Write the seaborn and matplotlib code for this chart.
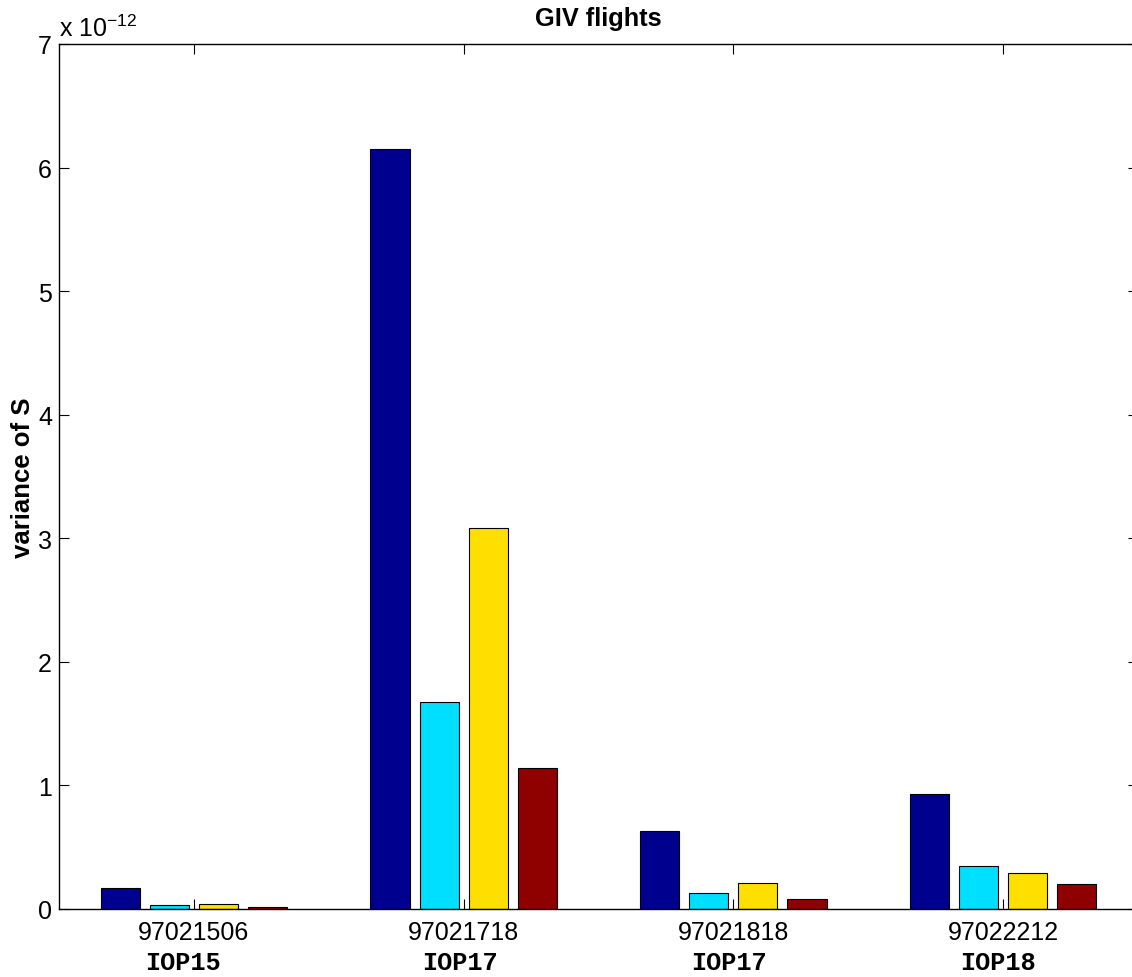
import numpy as np
import pandas as pd
import matplotlib
matplotlib.use("Agg")
import matplotlib.pyplot as plt
from matplotlib.ticker import FuncFormatter, MultipleLocator
import seaborn as sns

# ---- data (values in units of 1e-12) ----
flights = ["97021506", "97021718", "97021818", "97022212"]
iop_labels = ["IOP15", "IOP17", "IOP17", "IOP18"]
series_names = ["s1", "s2", "s3", "s4"]
s1 = [0.167, 6.15, 0.634, 0.93]
s2 = [0.030, 1.676, 0.127, 0.346]
s3 = [0.040, 3.085, 0.210, 0.290]
s4 = [0.014, 1.140, 0.081, 0.200]
scale = 1e-12
colors = ["#00008F", "#00DFFF", "#FFDF00", "#8F0000"]
iop_nudge = [-0.042, -0.012, -0.017, -0.018]

rows = []
for name, vals in zip(series_names, [s1, s2, s3, s4]):
    for f, v in zip(flights, vals):
        rows.append({"flight": f, "series": name, "value": v * scale})
df = pd.DataFrame(rows)

sns.set_style("white")
plt.rcParams["font.family"] = ["Liberation Sans", "DejaVu Sans"]
plt.rcParams["mathtext.fontset"] = "custom"
plt.rcParams["mathtext.rm"] = "Liberation Sans"
plt.rcParams["mathtext.it"] = "Liberation Sans"
plt.rcParams["text.color"] = "black"
plt.rcParams["axes.labelcolor"] = "black"
plt.rcParams["xtick.color"] = "black"
plt.rcParams["ytick.color"] = "black"

fig = plt.figure(figsize=(11.32, 9.78), dpi=100)
ax = fig.add_axes([59 / 1132, 68 / 978, 1079 / 1132, 865 / 978])

sns.barplot(data=df, x="flight", y="value", hue="series", order=flights,
            hue_order=series_names, palette=colors, saturation=1,
            width=0.727, gap=0.2, edgecolor="black", linewidth=0.8,
            errorbar=None, legend=False, ax=ax)

ax.set_xlim(-0.5, 3.5)
ax.set_ylim(0, 7 * scale)
ax.yaxis.set_major_locator(MultipleLocator(1 * scale))
ax.yaxis.set_major_formatter(FuncFormatter(lambda v, p: f"{v / scale:.0f}"))

for sp in ax.spines.values():
    sp.set_visible(True)
    sp.set_color("black")
    sp.set_linewidth(1.0)

ax.tick_params(axis="both", direction="in", length=7.2, width=0.8,
               top=True, right=True, bottom=True, left=True,
               labelsize=18, colors="black")
ax.tick_params(axis="x", pad=8.0)
ax.tick_params(axis="y", pad=5)

ax.set_xlabel("")
ax.set_ylabel("variance of S", fontsize=18.5, fontweight="bold", color="black")
ax.yaxis.set_label_coords(-0.0338, 0.5)
ax.yaxis.label.set_va("center")

ax.set_title("GIV flights", fontsize=18.3, fontweight="bold", pad=14.0, y=1.0,
             color="black")

ax.annotate("x 10$^{-12}$", xy=(0, 1), xycoords="axes fraction",
            xytext=(0, 6), textcoords="offset points",
            ha="left", va="baseline", fontsize=18, color="black")

for i, lab in enumerate(iop_labels):
    ax.text(i + iop_nudge[i], -0.0613, lab, transform=ax.get_xaxis_transform(),
            ha="center", va="center", fontsize=18.2, fontweight="bold",
            color="black", family=["Liberation Mono", "DejaVu Sans Mono"])

fig.savefig("out.png", dpi=100)
